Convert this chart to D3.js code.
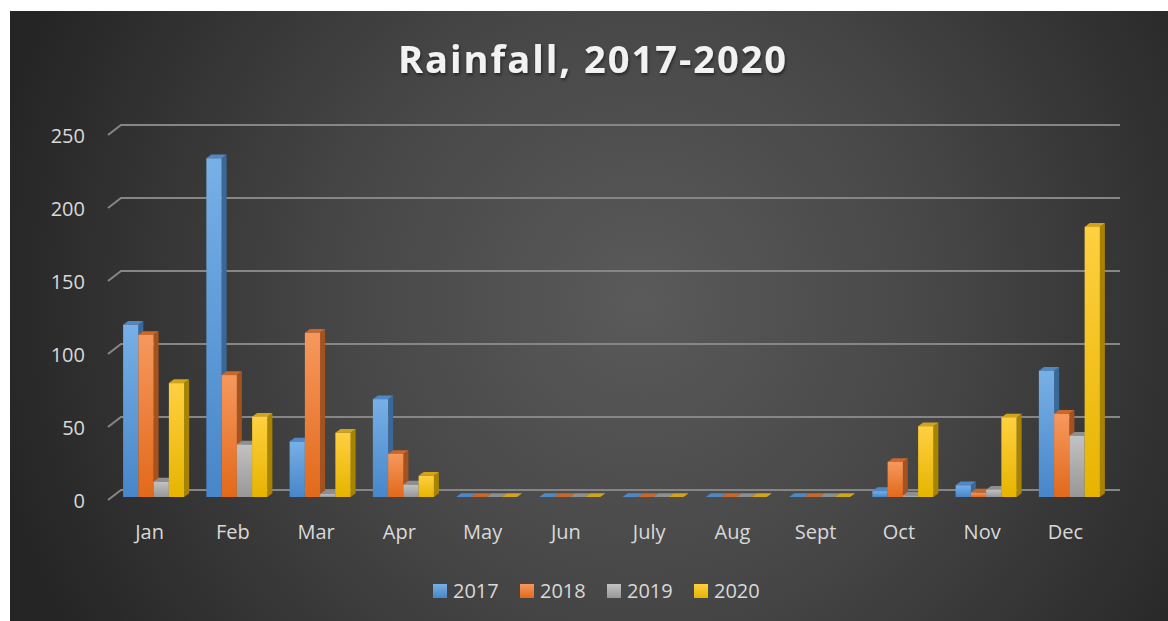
<!DOCTYPE html>
<html>
<head>
<meta charset="utf-8">
<script src="https://cdn.jsdelivr.net/npm/d3@7"></script>
<style>
  html, body { margin: 0; padding: 0; background: #ffffff; }
  svg { display: block; }
  text { font-family: "Open Sans", "DejaVu Sans", sans-serif; }
</style>
</head>
<body>
<svg id="chart" width="1168" height="621"></svg>
<script>
// Monthly rainfall, one array per year
const months = ["Jan", "Feb", "Mar", "Apr", "May", "Jun", "July", "Aug", "Sept", "Oct", "Nov", "Dec"];
const seriesNames = ["2017", "2018", "2019", "2020"];
const rain2017 = [118, 232, 38, 67, 0, 0, 0, 0, 0, 4, 8, 86.5];
const rain2018 = [111, 83.5, 112.5, 29.5, 0, 0, 0, 0, 0, 24, 3, 57];
const rain2019 = [10.5, 36, 2, 8.5, 0, 0, 0, 0, 0, 1, 5, 42];
const rain2020 = [78, 55, 44, 14.5, 0, 0, 0, 0, 0, 48.5, 54.5, 185];
const yTicks = [0, 50, 100, 150, 200, 250];
const chartTitle = "Rainfall, 2017-2020";

const seriesValues = [rain2017, rain2018, rain2019, rain2020];

// Face colours for each series: front gradient (top, bottom), side, top
const palette = [
  { hi: "#78b0e6", lo: "#4786c9", side: "#3a6898", top: "#5088c4" },
  { hi: "#f6985e", lo: "#e2691a", side: "#a4521e", top: "#c9682b" },
  { hi: "#c2c2c2", lo: "#979797", side: "#747474", top: "#8e8e8e" },
  { hi: "#ffd040", lo: "#e6b400", side: "#a88300", top: "#d2a419" }
];

const W = 1168, H = 621;
const svg = d3.select("#chart");
const defs = svg.append("defs");

// Panel background
const bg = defs.append("radialGradient")
  .attr("id", "panelBg")
  .attr("gradientUnits", "userSpaceOnUse")
  .attr("cx", 640).attr("cy", 300).attr("r", 660);
bg.append("stop").attr("offset", 0).attr("stop-color", "#5a5a5a");
bg.append("stop").attr("offset", 0.45).attr("stop-color", "#474747");
bg.append("stop").attr("offset", 1).attr("stop-color", "#252525");

svg.append("rect")
  .attr("x", 10).attr("y", 11)
  .attr("width", W - 10).attr("height", H - 11)
  .attr("fill", "url(#panelBg)");

// Front-face gradients
palette.forEach((p, i) => {
  const g = defs.append("linearGradient")
    .attr("id", "front" + i)
    .attr("x1", 0).attr("y1", 0).attr("x2", 0).attr("y2", 1);
  g.append("stop").attr("offset", 0).attr("stop-color", p.hi);
  g.append("stop").attr("offset", 1).attr("stop-color", p.lo);
});

// Soft shadow for the title
const sh = defs.append("filter").attr("id", "titleShadow")
  .attr("x", "-5%").attr("y", "-20%").attr("width", "110%").attr("height", "150%");
sh.append("feDropShadow")
  .attr("dx", 1).attr("dy", 2).attr("stdDeviation", 1.5)
  .attr("flood-color", "#000").attr("flood-opacity", 0.5);

// 3D geometry: back wall, floor depth and the plane the bars stand on
const wallLeft = 121, wallRight = 1120;
const floorDX = -13, floorDY = 10;   // back wall -> front edge of floor
const barDX = -9, barDY = 7;         // back wall -> front face of bars
const depthDX = 5, depthDY = -3.8;   // bar thickness (side / top faces)

const x0 = d3.scaleBand().domain(months).range([wallLeft, wallRight]);
const groupW = x0.bandwidth() * 0.733;
const x1 = d3.scaleBand().domain(seriesNames).range([0, groupW]);
const y = d3.scaleLinear().domain([0, 250]).range([490, 125]);

// Gridlines on the back wall with the return along the left side
const grid = svg.append("g");
yTicks.forEach(t => {
  const yy = y(t);
  grid.append("path")
    .attr("d", `M${wallLeft + floorDX},${yy + floorDY}L${wallLeft},${yy}L${wallRight},${yy}`)
    .attr("fill", "none")
    .attr("stroke", "#868686")
    .attr("stroke-width", 2);
});

// Bars, drawn left to right so each front face covers its neighbour's side
const bars = [];
months.forEach((m, mi) => {
  seriesNames.forEach((s, si) => {
    bars.push({ m, s, si, v: seriesValues[si][mi] });
  });
});

const barLayer = svg.append("g");
bars.forEach(d => {
  const xl = x0(d.m) + (x0.bandwidth() - groupW) / 2 + x1(d.s) + barDX;
  const xr = xl + x1.bandwidth();
  const yb = y(0) + barDY;
  const yt = y(d.v) + barDY;
  const p = palette[d.si];
  const g = barLayer.append("g");
  // side face
  g.append("path")
    .attr("d", `M${xr},${yb}L${xr + depthDX},${yb + depthDY}L${xr + depthDX},${yt + depthDY}L${xr},${yt}Z`)
    .attr("fill", p.side);
  // top face
  g.append("path")
    .attr("d", `M${xl},${yt}L${xl + depthDX},${yt + depthDY}L${xr + depthDX},${yt + depthDY}L${xr},${yt}Z`)
    .attr("fill", p.top);
  // front face
  if (yb - yt > 0.01) {
    g.append("rect")
      .attr("x", xl).attr("y", yt)
      .attr("width", xr - xl).attr("height", yb - yt)
      .attr("fill", `url(#front${d.si})`);
  }
});

// Value axis labels, aligned with the front edge of each gridline
const yFront = y.copy().range(y.range().map(v => v + floorDY));
const yAxis = svg.append("g")
  .attr("transform", `translate(92,1.5)`)
  .call(d3.axisLeft(yFront).tickValues(yTicks).tickSize(0).tickPadding(7));
yAxis.select(".domain").remove();
yAxis.selectAll("text")
  .attr("fill", "#d9d9d9")
  .style("font-size", "20px")
  .style("font-family", "'Open Sans', sans-serif");

// Month labels under the front edge of the floor
const xFront = x0.copy().range([wallLeft + floorDX, wallRight + floorDX]);
const xAxis = svg.append("g")
  .attr("transform", `translate(0,500)`)
  .call(d3.axisBottom(xFront).tickSize(0).tickPadding(25));
xAxis.select(".domain").remove();
xAxis.selectAll("text")
  .attr("fill", "#d9d9d9")
  .style("font-size", "20px")
  .style("font-family", "'Open Sans', sans-serif");

// Title
svg.append("text")
  .attr("x", 593).attr("y", 73)
  .attr("text-anchor", "middle")
  .attr("fill", "#f2f2f2")
  .attr("filter", "url(#titleShadow)")
  .style("font-size", "38px")
  .style("font-weight", "700")
  .style("letter-spacing", "2px")
  .text(chartTitle);

// Legend
const legendX = d3.scalePoint().domain(seriesNames).range([433, 694]);
const legend = svg.append("g");
seriesNames.forEach((s, i) => {
  const lx = legendX(s);
  legend.append("rect")
    .attr("x", lx).attr("y", 584)
    .attr("width", 14).attr("height", 14)
    .attr("fill", `url(#front${i})`);
  legend.append("text")
    .attr("x", lx + 20).attr("y", 598)
    .attr("fill", "#d9d9d9")
    .style("font-size", "20px")
    .text(s);
});
</script>
</body>
</html>
